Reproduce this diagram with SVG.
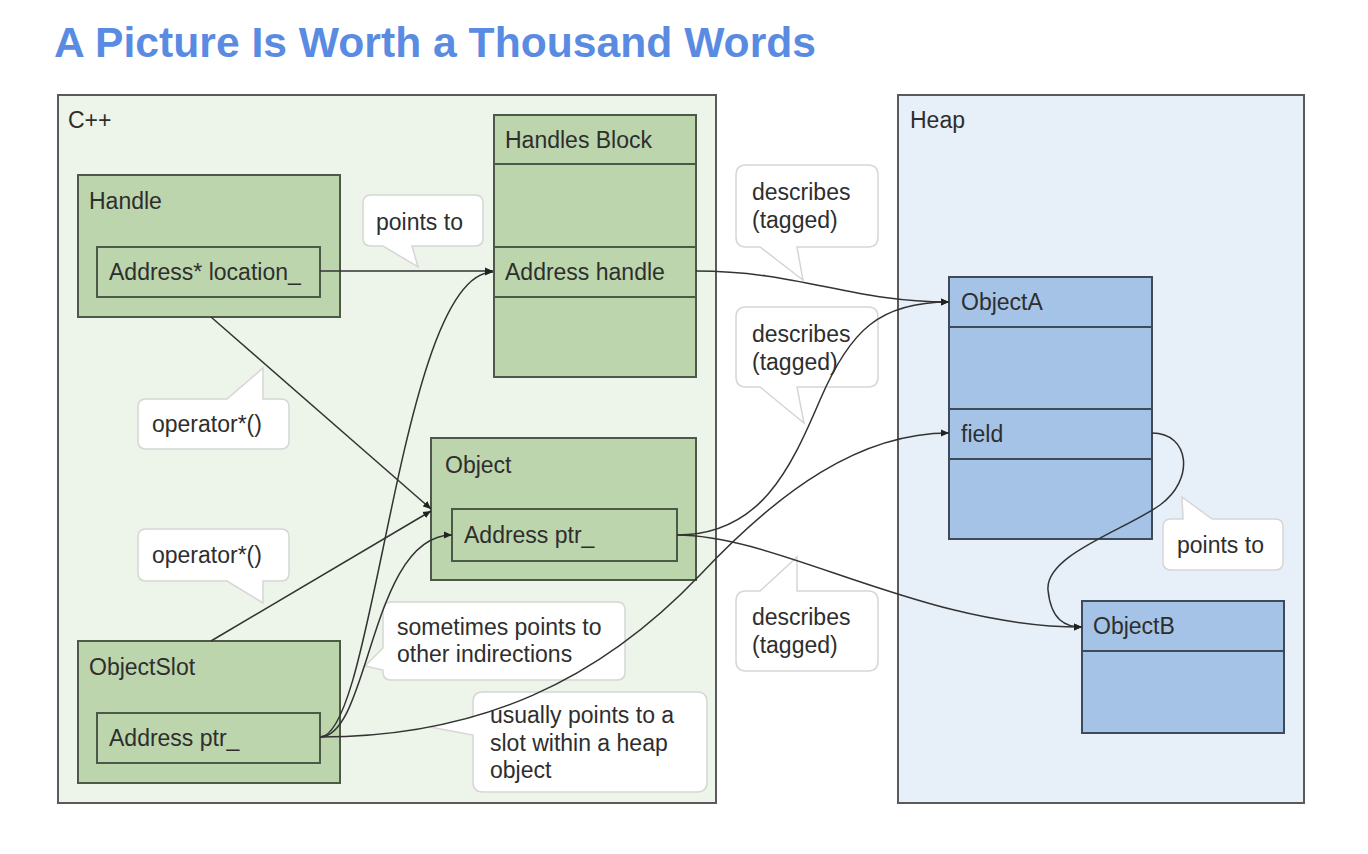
<svg xmlns="http://www.w3.org/2000/svg" width="1368" height="854" viewBox="0 0 1368 854">
<style>
text{font-family:"Liberation Sans",Arial,sans-serif;font-size:23px;fill:#2e2e2e}
.title{font-size:43px;font-weight:bold;fill:#5a8be3}
.cont{stroke:#5a5a5a;stroke-width:2}
.g{fill:#bcd5ac;stroke:#4b5946;stroke-width:2}
.b{fill:#a5c3e7;stroke:#3f4a58;stroke-width:2}
.div{stroke-width:2;fill:none}
.call{fill:#fff;stroke:#d6d6d6;stroke-width:1.5}
.c{fill:none;stroke:#333;stroke-width:1.5}
</style>
<defs>
<marker id="ah" markerWidth="9" markerHeight="8" refX="8" refY="4" orient="auto" markerUnits="userSpaceOnUse">
<path d="M0,0.5 L8,4 L0,7.5 Z" fill="#222"/>
</marker>
</defs>
<rect width="1368" height="854" fill="#fff"/>
<text class="title" x="54" y="57" textLength="762" lengthAdjust="spacingAndGlyphs">A Picture Is Worth a Thousand Words</text>

<g id="cpp">
<rect class="cont" x="58" y="95" width="658" height="708" fill="#edf4e9"/>
<text x="68" y="128">C++</text>
</g>
<g id="heap">
<rect class="cont" x="898" y="95" width="406" height="708" fill="#e7eff8"/>
<text x="910" y="128">Heap</text>
</g>

<g id="handle">
<rect class="g" x="78" y="175" width="262" height="142"/>
<text x="89" y="209">Handle</text>
<rect class="g" x="97" y="247" width="223" height="50"/>
<text x="109" y="280">Address* location_</text>
</g>

<g id="handles-block">
<rect class="g" x="494" y="115" width="202" height="262"/>
<path class="div" stroke="#4b5946" d="M494,164 H696 M494,247 H696 M494,297 H696"/>
<text x="505" y="148">Handles Block</text>
<text x="505" y="280">Address handle</text>
</g>

<g id="object">
<rect class="g" x="431" y="438" width="265" height="142"/>
<text x="445" y="473">Object</text>
<rect class="g" x="452" y="509" width="225" height="52"/>
<text x="464" y="543">Address ptr_</text>
</g>

<g id="objectslot">
<rect class="g" x="78" y="641" width="262" height="142"/>
<text x="89" y="675">ObjectSlot</text>
<rect class="g" x="97" y="713" width="223" height="50"/>
<text x="109" y="746">Address ptr_</text>
</g>

<g id="objectA">
<rect class="b" x="949" y="277" width="203" height="262"/>
<path class="div" stroke="#3f4a58" d="M949,327 H1152 M949,409 H1152 M949,459 H1152"/>
<text x="961" y="310">ObjectA</text>
<text x="961" y="442">field</text>
</g>

<g id="objectB">
<rect class="b" x="1082" y="601" width="202" height="132"/>
<path class="div" stroke="#3f4a58" d="M1082,651 H1284"/>
<text x="1093" y="634">ObjectB</text>
</g>

<g id="callouts">
<g id="c-points-to-1">
<path class="call" d="M371,195 H475 Q483,195 483,203 V238 Q483,246 475,246 H412 L418,267 L383,246 H371 Q363,246 363,238 V203 Q363,195 371,195 Z"/>
<text x="376" y="230">points to</text>
</g>
<g id="c-operator-1">
<path class="call" d="M146,399 H227 L263,368 V399 H281 Q289,399 289,407 V441 Q289,449 281,449 H146 Q138,449 138,441 V407 Q138,399 146,399 Z"/>
<text x="152" y="432">operator*()</text>
</g>
<g id="c-operator-2">
<path class="call" d="M146,529 H281 Q289,529 289,537 V573 Q289,581 281,581 H263 V603 L227,581 H146 Q138,581 138,573 V537 Q138,529 146,529 Z"/>
<text x="152" y="563">operator*()</text>
</g>
<g id="c-sometimes">
<path class="call" d="M391,602 H617 Q625,602 625,610 V672 Q625,680 617,680 H391 Q383,680 383,672 V670 L365,666 L383,648 V610 Q383,602 391,602 Z"/>
<text x="397" y="635">sometimes points to</text>
<text x="397" y="662">other indirections</text>
</g>
<g id="c-usually">
<path class="call" d="M483,692 H697 Q707,692 707,702 V782 Q707,792 697,792 H483 Q473,792 473,782 V735 L430,727 L473,717 V702 Q473,692 483,692 Z"/>
<text x="490" y="723">usually points to a</text>
<text x="490" y="751">slot within a heap</text>
<text x="490" y="778">object</text>
</g>
<g id="c-describes-1">
<path class="call" d="M746,165 H868 Q878,165 878,175 V237 Q878,247 868,247 H797 L803,280 L760,247 H746 Q736,247 736,237 V175 Q736,165 746,165 Z"/>
<text x="752" y="200">describes</text>
<text x="752" y="228">(tagged)</text>
</g>
<g id="c-describes-2">
<path class="call" d="M746,307 H868 Q878,307 878,317 V377 Q878,387 868,387 H797 L804,423 L760,387 H746 Q736,387 736,377 V317 Q736,307 746,307 Z"/>
<text x="752" y="342">describes</text>
<text x="752" y="370">(tagged)</text>
</g>
<g id="c-describes-3">
<path class="call" d="M746,591 H760 L797,557 L797,591 H868 Q878,591 878,601 V661 Q878,671 868,671 H746 Q736,671 736,661 V601 Q736,591 746,591 Z"/>
<text x="752" y="625">describes</text>
<text x="752" y="653">(tagged)</text>
</g>
<g id="c-points-to-2">
<path class="call" d="M1171,519 H1183 L1182,497 L1212,519 H1275 Q1283,519 1283,527 V562 Q1283,570 1275,570 H1171 Q1163,570 1163,562 V527 Q1163,519 1171,519 Z"/>
<text x="1177" y="553">points to</text>
</g>
</g>

<g id="connectors">
<path class="c" marker-end="url(#ah)" d="M320,271 H493"/>
<path class="c" marker-end="url(#ah)" d="M211,317 L431,509"/>
<path class="c" marker-end="url(#ah)" d="M211,641 L431,511"/>
<path class="c" marker-end="url(#ah)" d="M320,737 C375,737 400,272 493,272"/>
<path class="c" marker-end="url(#ah)" d="M320,737 C370,737 370,535 452,535"/>
<path class="c" marker-end="url(#ah)" d="M320,737 C480,737 600,680 700,575 C780,490 860,433 949,433"/>
<path class="c" marker-end="url(#ah)" d="M696,271 C800,271 850,302 949,302"/>
<path class="c" marker-end="url(#ah)" d="M677,535 C760,535 790,470 820,400 C850,330 880,302 949,302"/>
<path class="c" marker-end="url(#ah)" d="M677,535 C780,535 920,627 1082,627"/>
<path class="c" marker-end="url(#ah)" d="M1152,433 C1190,433 1195,480 1160,505 C1125,530 1045,555 1048,590 C1051,620 1065,627 1082,627"/>
</g>
</svg>
